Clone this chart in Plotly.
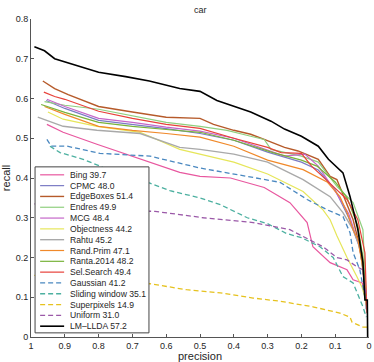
"""Precision / recall curves for the 'car' class (reversed precision axis)."""
import plotly.graph_objects as go

# ---- data ------------------------------------------------------------------
bing_prec = [0.953, 0.905, 0.805, 0.677, 0.56, 0.5, 0.41, 0.31, 0.234, 0.183, 0.166, 0.115, 0.065, 0.047, 0.02, 0.01]
bing_rec = [0.535, 0.515, 0.485, 0.447, 0.414, 0.404, 0.40, 0.376, 0.338, 0.288, 0.227, 0.187, 0.169, 0.144, 0.136, 0.1]

cpmc_prec = [0.955, 0.9, 0.8, 0.7, 0.6, 0.5, 0.4, 0.3, 0.2, 0.15, 0.1, 0.06, 0.03, 0.015, 0.008]
cpmc_rec = [0.595, 0.575, 0.545, 0.535, 0.524, 0.512, 0.495, 0.465, 0.44, 0.42, 0.37, 0.30, 0.23, 0.17, 0.07]

edge_prec = [0.965, 0.93, 0.89, 0.80, 0.70, 0.60, 0.50, 0.46, 0.40, 0.35, 0.31, 0.25, 0.21, 0.15, 0.115, 0.095, 0.071, 0.047, 0.027, 0.015, 0.008]
edge_rec = [0.644, 0.625, 0.61, 0.58, 0.566, 0.553, 0.55, 0.535, 0.52, 0.51, 0.497, 0.477, 0.468, 0.447, 0.404, 0.396, 0.346, 0.295, 0.227, 0.15, 0.09]

endres_prec = [0.96, 0.9, 0.8, 0.7, 0.6, 0.5, 0.42, 0.35, 0.31, 0.29, 0.2, 0.15, 0.095, 0.047, 0.018, 0.008]
endres_rec = [0.592, 0.583, 0.573, 0.556, 0.54, 0.53, 0.52, 0.505, 0.497, 0.472, 0.455, 0.44, 0.379, 0.338, 0.27, 0.1]

mcg_prec = [0.953, 0.9, 0.8, 0.7, 0.6, 0.5, 0.4, 0.3, 0.25, 0.19, 0.15, 0.095, 0.06, 0.035, 0.02, 0.008]
mcg_rec = [0.598, 0.58, 0.55, 0.54, 0.528, 0.518, 0.50, 0.47, 0.455, 0.46, 0.43, 0.36, 0.31, 0.245, 0.21, 0.08]

objness_prec = [0.95, 0.905, 0.805, 0.677, 0.56, 0.5, 0.4, 0.3, 0.195, 0.136, 0.115, 0.095, 0.065, 0.036, 0.021, 0.012]
objness_rec = [0.566, 0.548, 0.53, 0.515, 0.472, 0.46, 0.44, 0.41, 0.366, 0.32, 0.295, 0.255, 0.2, 0.152, 0.126, 0.1]

rahtu_prec = [0.98, 0.905, 0.805, 0.677, 0.56, 0.5, 0.4, 0.3, 0.195, 0.115, 0.077, 0.047, 0.027, 0.015, 0.008]
rahtu_rec = [0.553, 0.53, 0.52, 0.512, 0.477, 0.472, 0.46, 0.44, 0.396, 0.353, 0.313, 0.27, 0.227, 0.15, 0.07]

randprim_prec = [0.96, 0.9, 0.8, 0.7, 0.6, 0.5, 0.4, 0.3, 0.195, 0.124, 0.086, 0.065, 0.047, 0.033, 0.015, 0.008]
randprim_rec = [0.58, 0.56, 0.53, 0.52, 0.512, 0.503, 0.48, 0.445, 0.421, 0.39, 0.353, 0.313, 0.27, 0.245, 0.16, 0.08]

ranta_prec = [0.97, 0.9, 0.8, 0.7, 0.6, 0.5, 0.4, 0.284, 0.2, 0.154, 0.1, 0.065, 0.033, 0.018, 0.008]
ranta_rec = [0.585, 0.565, 0.54, 0.53, 0.522, 0.515, 0.495, 0.464, 0.445, 0.43, 0.39, 0.35, 0.28, 0.2, 0.09]

selsearch_prec = [0.962, 0.93, 0.90, 0.80, 0.70, 0.60, 0.50, 0.40, 0.30, 0.26, 0.20, 0.17, 0.106, 0.065, 0.033, 0.012, 0.006]
selsearch_rec = [0.616, 0.605, 0.598, 0.568, 0.55, 0.535, 0.525, 0.50, 0.477, 0.464, 0.462, 0.43, 0.379, 0.346, 0.295, 0.212, 0.06]

gauss_prec = [0.953, 0.94, 0.893, 0.796, 0.648, 0.5, 0.36, 0.263, 0.183, 0.124, 0.077, 0.056, 0.047, 0.027, 0.012]
gauss_rec = [0.497, 0.48, 0.48, 0.462, 0.455, 0.425, 0.404, 0.389, 0.346, 0.32, 0.303, 0.262, 0.212, 0.169, 0.1]

sliding_prec = [0.944, 0.914, 0.846, 0.796, 0.75, 0.648, 0.589, 0.5, 0.44, 0.36, 0.3, 0.243, 0.2, 0.145, 0.106, 0.077, 0.047, 0.018, 0.008]
sliding_rec = [0.48, 0.464, 0.447, 0.43, 0.41, 0.387, 0.368, 0.35, 0.333, 0.3, 0.285, 0.26, 0.25, 0.227, 0.2, 0.152, 0.136, 0.076, 0.05]

superpix_prec = [0.99, 0.85, 0.648, 0.54, 0.44, 0.343, 0.263, 0.166, 0.086, 0.056, 0.05, 0.018, 0.005]
superpix_rec = [0.155, 0.145, 0.134, 0.119, 0.111, 0.098, 0.09, 0.076, 0.06, 0.05, 0.037, 0.025, 0.025]

uniform_prec = [0.99, 0.85, 0.7, 0.633, 0.56, 0.49, 0.343, 0.263, 0.234, 0.136, 0.095, 0.065, 0.036, 0.018, 0.008]
uniform_rec = [0.335, 0.325, 0.318, 0.316, 0.308, 0.30, 0.288, 0.275, 0.27, 0.227, 0.2, 0.194, 0.177, 0.169, 0.1]

lmllda_prec = [0.99, 0.96, 0.93, 0.89, 0.85, 0.80, 0.72, 0.65, 0.56, 0.50, 0.45, 0.40, 0.35, 0.29, 0.25, 0.20, 0.15, 0.12, 0.10, 0.077, 0.056, 0.033, 0.018, 0.012, 0.005, 0.004]
lmllda_rec = [0.73, 0.72, 0.70, 0.69, 0.68, 0.666, 0.655, 0.644, 0.625, 0.618, 0.595, 0.58, 0.566, 0.543, 0.523, 0.505, 0.48, 0.447, 0.43, 0.413, 0.353, 0.27, 0.187, 0.093, 0.093, 0.0]

method_names = ["Bing 39.7", "CPMC 48.0", "EdgeBoxes 51.4", "Endres 49.9", "MCG 48.4",
                "Objectness 44.2", "Rahtu 45.2", "Rand.Prim 47.1", "Ranta.2014 48.2",
                "Sel.Search 49.4", "Gaussian 41.2", "Sliding window 35.1",
                "Superpixels 14.9", "Uniform 31.0", "LM\u2013LLDA 57.2"]

# ---- styling ---------------------------------------------------------------
DASH = "5px,3px"
styles = [
    ("#e8579f", None, 1.2), ("#7b7bc4", None, 1.2), ("#b65a2a", None, 1.4),
    ("#90cf7f", None, 1.2), ("#c566c9", None, 1.2), ("#e6e65a", None, 1.2),
    ("#a9a9a9", None, 1.4), ("#f0892a", None, 1.2), ("#78b33a", None, 1.2),
    ("#e8413a", None, 1.2), ("#4a88c0", DASH, 1.3), ("#4cb0a0", DASH, 1.3),
    ("#e6c21f", DASH, 1.3), ("#9b59a8", DASH, 1.3), ("#000000", None, 1.6),
]
curves = [
    (bing_prec, bing_rec), (cpmc_prec, cpmc_rec), (edge_prec, edge_rec),
    (endres_prec, endres_rec), (mcg_prec, mcg_rec), (objness_prec, objness_rec),
    (rahtu_prec, rahtu_rec), (randprim_prec, randprim_rec), (ranta_prec, ranta_rec),
    (selsearch_prec, selsearch_rec), (gauss_prec, gauss_rec),
    (sliding_prec, sliding_rec), (superpix_prec, superpix_rec),
    (uniform_prec, uniform_rec), (lmllda_prec, lmllda_rec),
]

FONT = "Liberation Sans, Arial, sans-serif"
TXT = "#262626"

fig = go.Figure()
for name, (px_, rc), (color, dash, width) in zip(method_names, curves, styles):
    fig.add_trace(go.Scatter(
        x=px_, y=rc, mode="lines", name=name, showlegend=False,
        line=dict(color=color, width=width, dash=dash or "solid"),
    ))

# hand-made compact legend (plotly's own rows are too tall for this size)
lg_x0, lg_x1, lg_y0, lg_y1 = 0.012, 0.349, 0.013, 0.535
shapes = [dict(type="rect", xref="paper", yref="paper", x0=lg_x0, x1=lg_x1,
               y0=lg_y0, y1=lg_y1, fillcolor="white",
               line=dict(color="#444", width=1), layer="above")]
annotations = []
row_top, row_step = 0.510, 0.034
for i, (name, (color, dash, width)) in enumerate(zip(method_names, styles)):
    yy = row_top - i * row_step
    shapes.append(dict(type="line", xref="paper", yref="paper", x0=0.027, x1=0.098,
                       y0=yy, y1=yy, layer="above",
                       line=dict(color=color, width=width, dash=dash or "solid")))
    annotations.append(dict(xref="paper", yref="paper", x=0.109, y=yy, text=name,
                            showarrow=False, xanchor="left", yanchor="middle",
                            font=dict(size=8.6, color=TXT, family=FONT)))

fig.update_layout(
    width=374, height=362,
    margin=dict(l=31, r=5, t=19, b=25),
    paper_bgcolor="white", plot_bgcolor="white",
    font=dict(family=FONT, size=9, color=TXT),
    title=dict(text="car", x=0.5355, xanchor="center", y=0.972, yanchor="middle",
               font=dict(size=9, color=TXT)),
    xaxis=dict(
        range=[1, 0], dtick=0.1, tick0=0, showgrid=False, zeroline=False,
        showline=True, linecolor="#555", linewidth=1, ticks="inside", ticklen=3,
        tickcolor="#555", title=dict(text="precision", standoff=2),
        automargin=False,
    ),
    yaxis=dict(
        range=[0, 0.8], dtick=0.1, showgrid=False, zeroline=False,
        showline=True, linecolor="#555", linewidth=1, ticks="inside", ticklen=3,
        tickcolor="#555", title=dict(text="recall", standoff=2),
        automargin=False,
    ),
    shapes=shapes, annotations=annotations,
)

# the page's default body margin would shift the fixed-size figure by 8px
fig.write_html("out.html", config={"displayModeBar": False},
               post_script="document.body.style.margin='0px';")
